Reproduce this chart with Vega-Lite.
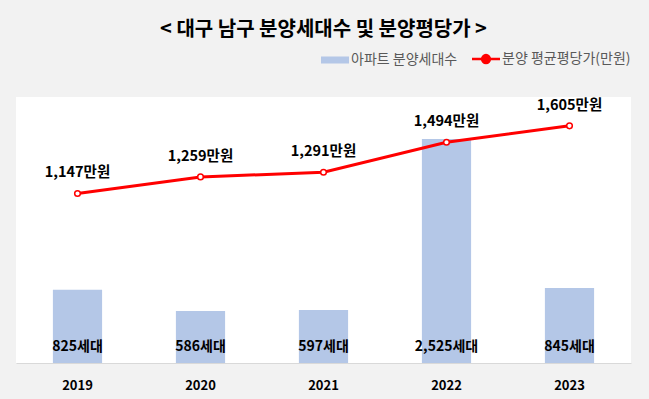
{
  "$schema": "https://vega.github.io/schema/vega-lite/v6.json",
  "width": 615,
  "height": 266,
  "autosize": {"type": "none"},
  "padding": {"left": 16, "top": 97, "right": 18, "bottom": 36},
  "background": "#F2F2F2",
  "title": {
    "text": "< 대구 남구 분양세대수 및 분양평당가 >",
    "font": "Noto Sans CJK KR",
    "fontSize": 20,
    "fontWeight": "bold",
    "color": "#000000",
    "anchor": "middle",
    "offset": 12
  },
  "data": {
    "values": [
      {"year": "2019", "units": 825, "price": 1147},
      {"year": "2020", "units": 586, "price": 1259},
      {"year": "2021", "units": 597, "price": 1291},
      {"year": "2022", "units": 2525, "price": 1494},
      {"year": "2023", "units": 845, "price": 1605}
    ]
  },
  "encoding": {
    "x": {
      "field": "year",
      "type": "ordinal",
      "scale": {"paddingInner": 0.6, "paddingOuter": 0.3},
      "axis": {
        "title": null,
        "labelAngle": 0,
        "ticks": false,
        "grid": false,
        "domainColor": "#D9D9D9",
        "labelFont": "Noto Sans CJK KR",
        "labelFontWeight": "bold",
        "labelFontSize": 13,
        "labelColor": "#000000",
        "labelPadding": 16
      }
    }
  },
  "layer": [
    {
      "encoding": {
        "y": {"field": "units", "type": "quantitative", "scale": {"domain": [0, 3000], "nice": false}, "axis": null}
      },
      "layer": [
        {
          "mark": {"type": "bar"},
          "encoding": {
            "color": {
              "datum": "아파트 분양세대수",
              "scale": {"domain": ["아파트 분양세대수", "분양 평균평당가(만원)"], "range": ["#B4C7E7", "#FF0000"]},
              "legend": {
                "orient": "none",
                "legendX": 312,
                "legendY": -45,
                "direction": "horizontal",
                "title": null,
                "symbolSize": 784,
                "columnPadding": 9,
                "labelOffset": 9,
                "labelFont": "Noto Sans CJK KR",
                "labelFontSize": 14,
                "labelColor": "#595959",
                "encode": {
                  "symbols": {
                    "update": {
                      "shape": {"signal": "datum.value === '아파트 분양세대수' ? 'M-1,-0.25H1V0.25H-1Z' : 'M-1,0H-0.28M0.28,0H1M0.28,0A0.28,0.28 0 1,1 -0.28,0A0.28,0.28 0 1,1 0.28,0'"},
                      "fill": {"signal": "datum.value === '아파트 분양세대수' ? '#B4C7E7' : '#FFFFFF'"},
                      "stroke": {"signal": "datum.value === '아파트 분양세대수' ? 'transparent' : '#FF0000'"},
                      "strokeWidth": {"signal": "datum.value === '아파트 분양세대수' ? 0 : 2.5"},
                      "opacity": {"value": 1}
                    }
                  }
                }
              }
            }
          }
        },
        {
          "mark": {
            "type": "text",
            "font": "Noto Sans CJK KR",
            "fontSize": 14,
            "fontWeight": "bold",
            "color": "#000000",
            "baseline": "middle",
            "dy": -16,
            "text": {"expr": "format(datum.units, ',') + '세대'"}
          },
          "encoding": {"y": {"datum": 0}}
        }
      ]
    },
    {
      "encoding": {
        "y": {"field": "price", "type": "quantitative", "scale": {"domain": [0, 1800], "nice": false}, "axis": null}
      },
      "layer": [
        {
          "mark": {"type": "line", "strokeWidth": 3},
          "encoding": {"color": {"datum": "분양 평균평당가(만원)"}}
        },
        {
          "mark": {"type": "point", "filled": true, "fill": "#FFFFFF", "stroke": "#FF0000", "strokeWidth": 1.5, "size": 32, "opacity": 1}
        },
        {
          "mark": {
            "type": "text",
            "font": "Noto Sans CJK KR",
            "fontSize": 14.5,
            "fontWeight": "bold",
            "color": "#000000",
            "baseline": "middle",
            "dy": -20,
            "text": {"expr": "format(datum.price, ',') + '만원'"}
          }
        }
      ]
    }
  ],
  "resolve": {"scale": {"y": "independent"}},
  "config": {
    "view": {"fill": "#FFFFFF", "stroke": null}
  }
}
